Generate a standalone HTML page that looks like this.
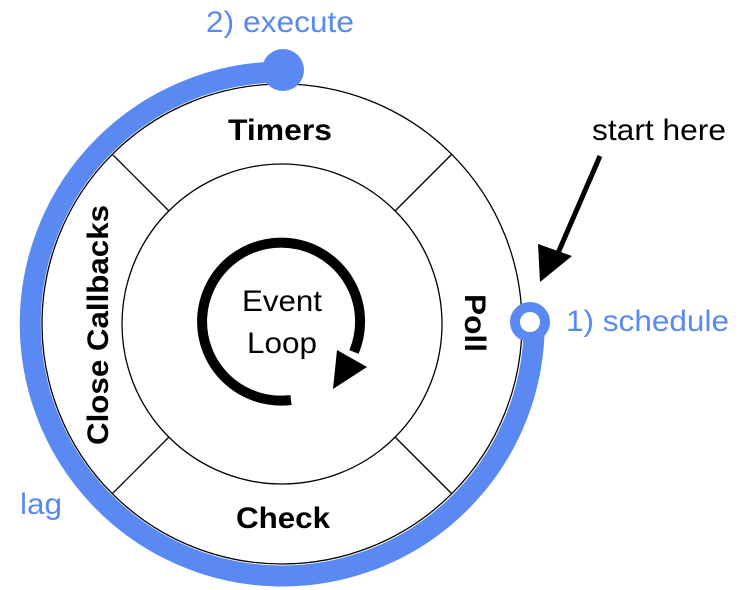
<!DOCTYPE html><html><head><style>body{margin:0;background:#fff}svg{display:block}text{font-family:"Liberation Sans",Arial,sans-serif}</style></head><body>
<svg width="748" height="590" viewBox="0 0 748 590">
<circle cx="282" cy="324" r="240" fill="#fff" stroke="#000" stroke-width="1.3"/>
<circle cx="282" cy="324" r="160" fill="#fff" stroke="#000" stroke-width="1.3"/>
<g stroke="#000" stroke-width="1.3">
<line x1="395" y1="211" x2="452" y2="154"/><line x1="169" y1="211" x2="112" y2="154"/>
<line x1="395" y1="437" x2="452" y2="494"/><line x1="169" y1="437" x2="112" y2="494"/>
</g>
<path d="M534 335 A252 252 0 1 1 282 72" fill="none" stroke="#5a89f3" stroke-width="21"/>
<circle cx="283" cy="70" r="21" fill="#5a89f3"/>
<circle cx="530" cy="322" r="15" fill="#fff" stroke="#5a89f3" stroke-width="10"/>
<path d="M291 400 A79 79 0 1 1 354 352" fill="none" stroke="#000" stroke-width="10"/>
<polygon points="337,350 367,367 333,389" fill="#000"/>
<line x1="600" y1="156" x2="555" y2="260" stroke="#000" stroke-width="5"/>
<polygon points="540,282 538,244 572,256" fill="#000"/>
<g font-size="30" text-anchor="middle">
<text x="280" y="140" font-weight="bold" textLength="104" lengthAdjust="spacingAndGlyphs">Timers</text>
<text x="283" y="528" font-weight="bold" textLength="94" lengthAdjust="spacingAndGlyphs">Check</text>
<text transform="translate(108,325) rotate(-90)" font-weight="bold" textLength="240" lengthAdjust="spacingAndGlyphs">Close Callbacks</text>
<text transform="translate(465,323) rotate(90)" font-weight="bold" textLength="58" lengthAdjust="spacingAndGlyphs">Poll</text>
<text x="282" y="311" textLength="80" lengthAdjust="spacingAndGlyphs">Event</text>
<text x="282" y="353" textLength="70" lengthAdjust="spacingAndGlyphs">Loop</text>
<text x="280" y="32" fill="#5a89f3" textLength="148" lengthAdjust="spacingAndGlyphs">2) execute</text>
</g>
<g font-size="30">
<text x="592" y="140" textLength="134" lengthAdjust="spacingAndGlyphs">start here</text>
<text x="566" y="331" fill="#5a89f3" textLength="163" lengthAdjust="spacingAndGlyphs">1) schedule</text>
<text x="20" y="514" fill="#5a89f3" textLength="42" lengthAdjust="spacingAndGlyphs">lag</text>
</g>
</svg></body></html>
